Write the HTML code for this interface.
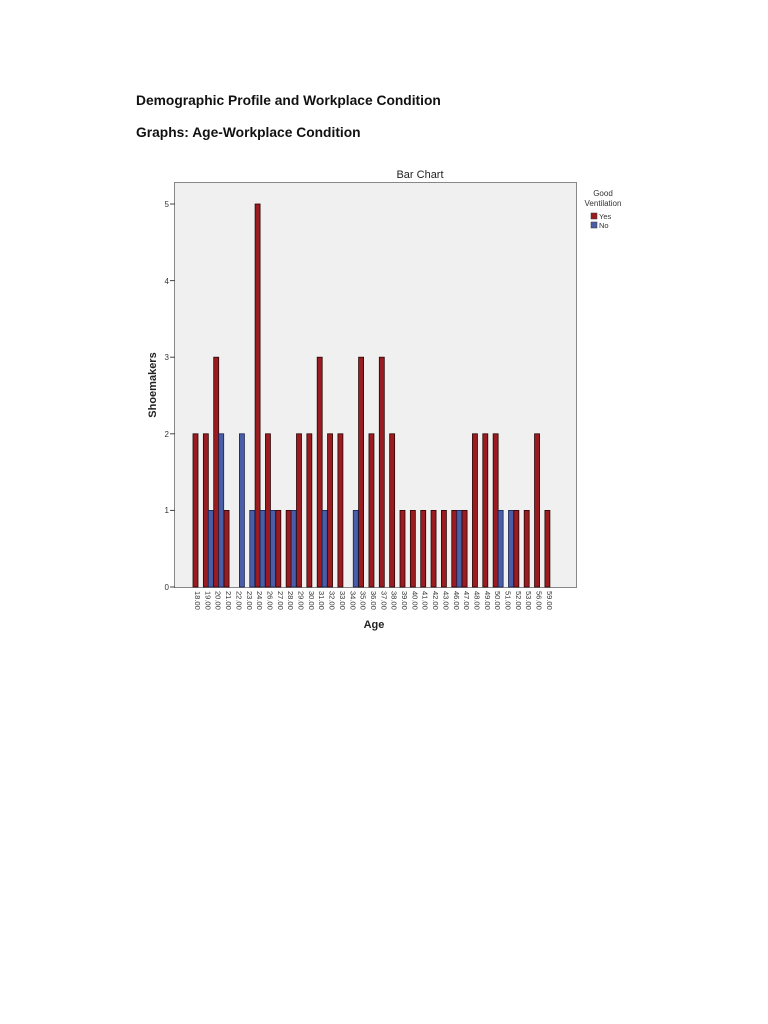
<!DOCTYPE html>
<html><head><meta charset="utf-8"><style>
html,body{margin:0;padding:0;background:#fff;}
body{width:768px;height:1024px;position:relative;font-family:"Liberation Sans",sans-serif;}
.h{position:absolute;left:136px;font-weight:bold;font-size:13.8px;color:#111;}
</style></head><body>
<div class="h" style="top:93px">Demographic Profile and Workplace Condition</div>
<div class="h" style="top:125px">Graphs: Age-Workplace Condition</div>
<svg width="768" height="1024" style="position:absolute;left:0;top:0" font-family="Liberation Sans, sans-serif">
<text x="420" y="178" font-size="11" text-anchor="middle" fill="#222">Bar Chart</text>
<rect x="174.5" y="182.5" width="402" height="405" fill="#f0f0f0" stroke="#888" stroke-width="1"/>
<g stroke="#444" stroke-width="1">
<line x1="170" y1="587" x2="175" y2="587"/><line x1="170" y1="510.4" x2="175" y2="510.4"/><line x1="170" y1="433.8" x2="175" y2="433.8"/><line x1="170" y1="357.2" x2="175" y2="357.2"/><line x1="170" y1="280.6" x2="175" y2="280.6"/><line x1="170" y1="204" x2="175" y2="204"/>
</g>
<g font-size="8" fill="#333" text-anchor="end">
<text x="169" y="590">0</text><text x="169" y="513">1</text><text x="169" y="437">2</text><text x="169" y="360">3</text><text x="169" y="284">4</text><text x="169" y="207">5</text>
</g>
<text transform="translate(156,385) rotate(-90)" font-size="11" font-weight="bold" text-anchor="middle" fill="#222">Shoemakers</text>
<text x="374" y="628" font-size="11" font-weight="bold" text-anchor="middle" fill="#222">Age</text>
<g fill="#9b1c20" stroke="#2a0505" stroke-width="0.8">
<rect x="193" y="433.8" width="5" height="153.2"/>
<rect x="203.35" y="433.8" width="5" height="153.2"/>
<rect x="213.7" y="357.2" width="5" height="229.8"/>
<rect x="224.05" y="510.4" width="5" height="76.6"/>
<rect x="255.1" y="204" width="5" height="383"/>
<rect x="265.45" y="433.8" width="5" height="153.2"/>
<rect x="275.8" y="510.4" width="5" height="76.6"/>
<rect x="286.15" y="510.4" width="5" height="76.6"/>
<rect x="296.5" y="433.8" width="5" height="153.2"/>
<rect x="306.85" y="433.8" width="5" height="153.2"/>
<rect x="317.2" y="357.2" width="5" height="229.8"/>
<rect x="327.55" y="433.8" width="5" height="153.2"/>
<rect x="337.9" y="433.8" width="5" height="153.2"/>
<rect x="358.6" y="357.2" width="5" height="229.8"/>
<rect x="368.95" y="433.8" width="5" height="153.2"/>
<rect x="379.3" y="357.2" width="5" height="229.8"/>
<rect x="389.65" y="433.8" width="5" height="153.2"/>
<rect x="400" y="510.4" width="5" height="76.6"/>
<rect x="410.35" y="510.4" width="5" height="76.6"/>
<rect x="420.7" y="510.4" width="5" height="76.6"/>
<rect x="431.05" y="510.4" width="5" height="76.6"/>
<rect x="441.4" y="510.4" width="5" height="76.6"/>
<rect x="451.75" y="510.4" width="5" height="76.6"/>
<rect x="462.1" y="510.4" width="5" height="76.6"/>
<rect x="472.45" y="433.8" width="5" height="153.2"/>
<rect x="482.8" y="433.8" width="5" height="153.2"/>
<rect x="493.15" y="433.8" width="5" height="153.2"/>
<rect x="513.85" y="510.4" width="5" height="76.6"/>
<rect x="524.2" y="510.4" width="5" height="76.6"/>
<rect x="534.55" y="433.8" width="5" height="153.2"/>
<rect x="544.9" y="510.4" width="5" height="76.6"/>
</g>
<g fill="#4a5ea8" stroke="#1a2250" stroke-width="0.8">
<rect x="208.35" y="510.4" width="5" height="76.6"/>
<rect x="218.7" y="433.8" width="5" height="153.2"/>
<rect x="239.4" y="433.8" width="5" height="153.2"/>
<rect x="249.75" y="510.4" width="5" height="76.6"/>
<rect x="260.1" y="510.4" width="5" height="76.6"/>
<rect x="270.45" y="510.4" width="5" height="76.6"/>
<rect x="291.15" y="510.4" width="5" height="76.6"/>
<rect x="322.2" y="510.4" width="5" height="76.6"/>
<rect x="353.25" y="510.4" width="5" height="76.6"/>
<rect x="456.75" y="510.4" width="5" height="76.6"/>
<rect x="498.15" y="510.4" width="5" height="76.6"/>
<rect x="508.5" y="510.4" width="5" height="76.6"/>
</g>
<g font-size="7.5" fill="#333">
<text transform="translate(195,591) rotate(90)">18.00</text>
<text transform="translate(205.35,591) rotate(90)">19.00</text>
<text transform="translate(215.7,591) rotate(90)">20.00</text>
<text transform="translate(226.05,591) rotate(90)">21.00</text>
<text transform="translate(236.4,591) rotate(90)">22.00</text>
<text transform="translate(246.75,591) rotate(90)">23.00</text>
<text transform="translate(257.1,591) rotate(90)">24.00</text>
<text transform="translate(267.45,591) rotate(90)">26.00</text>
<text transform="translate(277.8,591) rotate(90)">27.00</text>
<text transform="translate(288.15,591) rotate(90)">28.00</text>
<text transform="translate(298.5,591) rotate(90)">29.00</text>
<text transform="translate(308.85,591) rotate(90)">30.00</text>
<text transform="translate(319.2,591) rotate(90)">31.00</text>
<text transform="translate(329.55,591) rotate(90)">32.00</text>
<text transform="translate(339.9,591) rotate(90)">33.00</text>
<text transform="translate(350.25,591) rotate(90)">34.00</text>
<text transform="translate(360.6,591) rotate(90)">35.00</text>
<text transform="translate(370.95,591) rotate(90)">36.00</text>
<text transform="translate(381.3,591) rotate(90)">37.00</text>
<text transform="translate(391.65,591) rotate(90)">38.00</text>
<text transform="translate(402,591) rotate(90)">39.00</text>
<text transform="translate(412.35,591) rotate(90)">40.00</text>
<text transform="translate(422.7,591) rotate(90)">41.00</text>
<text transform="translate(433.05,591) rotate(90)">42.00</text>
<text transform="translate(443.4,591) rotate(90)">43.00</text>
<text transform="translate(453.75,591) rotate(90)">46.00</text>
<text transform="translate(464.1,591) rotate(90)">47.00</text>
<text transform="translate(474.45,591) rotate(90)">48.00</text>
<text transform="translate(484.8,591) rotate(90)">49.00</text>
<text transform="translate(495.15,591) rotate(90)">50.00</text>
<text transform="translate(505.5,591) rotate(90)">51.00</text>
<text transform="translate(515.85,591) rotate(90)">52.00</text>
<text transform="translate(526.2,591) rotate(90)">53.00</text>
<text transform="translate(536.55,591) rotate(90)">56.00</text>
<text transform="translate(546.9,591) rotate(90)">59.00</text>
</g>
<g font-size="8" fill="#333">
<text x="603" y="196" text-anchor="middle">Good</text>
<text x="603" y="206" text-anchor="middle">Ventilation</text>
<rect x="591" y="213" width="6" height="6" fill="#9b1c20" stroke="#333" stroke-width="0.5"/>
<text x="599" y="219" font-size="7.5">Yes</text>
<rect x="591" y="222" width="6" height="6" fill="#4a5ea8" stroke="#333" stroke-width="0.5"/>
<text x="599" y="228" font-size="7.5">No</text>
</g>
</svg>
</body></html>
